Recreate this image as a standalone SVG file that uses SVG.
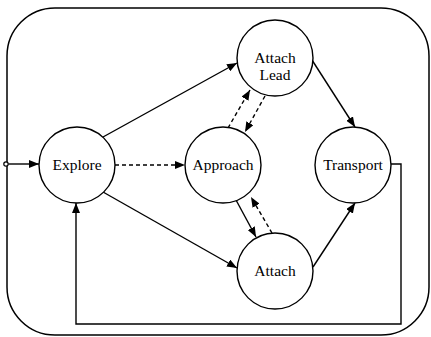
<svg xmlns="http://www.w3.org/2000/svg" width="431" height="337" viewBox="0 0 431 337">
<style>
.node circle{fill:#fff;stroke:#000;stroke-width:1.4}
.node text{font-family:"Liberation Serif","Times New Roman",serif;font-size:15.5px;fill:#000;text-anchor:middle}
.c{fill:none;stroke:#000;stroke-width:1.4}
.d{stroke-dasharray:4 3}
.frame{fill:none;stroke:#000;stroke-width:1.5}
</style>
<defs>
<marker id="ah" viewBox="0 0 10 8" refX="10" refY="4" markerWidth="10" markerHeight="8" markerUnits="userSpaceOnUse" orient="auto">
<path d="M0,0 L10,4 L0,8 z" fill="#000"/>
</marker>
</defs>
<rect class="frame" x="7" y="8" width="422" height="327" rx="48" ry="48"/>
<g id="connectors">
<circle cx="6" cy="164" r="2.2" fill="#fff" stroke="#000" stroke-width="1.2"/>
<line class="c" x1="8.5" y1="164" x2="39" y2="164" marker-end="url(#ah)"/>
<line class="c" x1="103" y1="137" x2="237" y2="63" marker-end="url(#ah)"/>
<line class="c" x1="103" y1="192" x2="237" y2="268" marker-end="url(#ah)"/>
<line class="c d" x1="115" y1="165" x2="185" y2="165" marker-end="url(#ah)"/>
<line class="c d" x1="228" y1="128" x2="250" y2="90" marker-end="url(#ah)"/>
<line class="c d" x1="265" y1="96" x2="245" y2="132" marker-end="url(#ah)"/>
<line class="c" x1="236" y1="200" x2="256" y2="237" marker-end="url(#ah)"/>
<line class="c d" x1="272" y1="233" x2="251" y2="197" marker-end="url(#ah)"/>
<line class="c" x1="312" y1="60" x2="355" y2="127" marker-end="url(#ah)"/>
<line class="c" x1="313" y1="267" x2="355" y2="203" marker-end="url(#ah)"/>
<polyline class="c" points="391,164 401,164 401,324 76,324 76,203" marker-end="url(#ah)"/>
</g>
<g id="explore" class="node"><circle cx="77" cy="165" r="38"/><text x="77" y="170">Explore</text></g>
<g id="approach" class="node"><circle cx="223" cy="165" r="38"/><text x="223" y="170">Approach</text></g>
<g id="transport" class="node"><circle cx="353" cy="165" r="38"/><text x="353" y="170">Transport</text></g>
<g id="attach-lead" class="node"><circle cx="275" cy="58" r="38"/><text x="275" y="63">Attach</text><text x="275" y="80">Lead</text></g>
<g id="attach" class="node"><circle cx="275" cy="271" r="38"/><text x="275" y="276">Attach</text></g>
</svg>
